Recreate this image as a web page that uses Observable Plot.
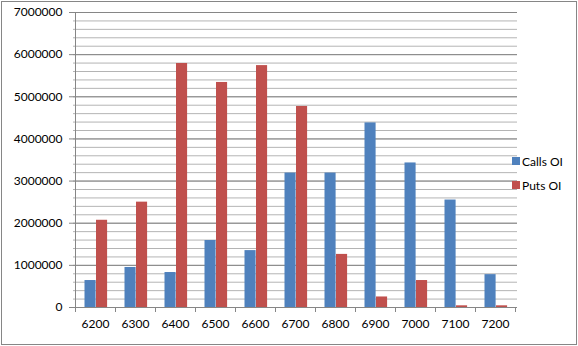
<!DOCTYPE html>
<html>
<head>
<meta charset="utf-8">
<script src="https://cdn.jsdelivr.net/npm/d3@7"></script>
<script src="https://cdn.jsdelivr.net/npm/@observablehq/plot@0.6"></script>
<style>
  html, body { margin: 0; padding: 0; background: #fff; }
  #wrap { position: relative; width: 578px; height: 346px; font-family: Lato, "Noto Sans", sans-serif; }
  #border { position: absolute; left: 1px; top: 1px; width: 576px; height: 344px; box-sizing: border-box; border: 1px solid #868686; pointer-events: none; }
  #legend { position: absolute; left: 512px; top: 153px; font-size: 12px; color: #000; }
  .item { display: flex; align-items: center; height: 16px; margin-bottom: 8px; }
  .sw { width: 8px; height: 8px; margin-right: 2px; }
</style>
</head>
<body>
<div id="wrap">
  <div id="chart"></div>
  <div id="legend"></div>
  <div id="border"></div>
</div>
<script>
const strikes = ["6200", "6300", "6400", "6500", "6600", "6700", "6800", "6900", "7000", "7100", "7200"];
const callsOI = [640000, 950000, 830000, 1590000, 1350000, 3190000, 3190000, 4380000, 3430000, 2550000, 780000];
const putsOI  = [2070000, 2500000, 5790000, 5340000, 5740000, 4770000, 1260000, 250000, 640000, 40000, 40000];
const seriesNames = ["Calls OI", "Puts OI"];
const seriesColors = ["#4F81BD", "#C0504D"];
const yTicks = [0, 1000000, 2000000, 3000000, 4000000, 5000000, 6000000, 7000000];
const minorTicks = d3.range(0, 7000001, 200000);

const calls = strikes.map((s, i) => ({strike: s, value: callsOI[i]}));
const puts = strikes.map((s, i) => ({strike: s, value: putsOI[i]}));

const chart = Plot.plot({
  width: 578,
  height: 346,
  marginLeft: 73,
  marginRight: 61,
  marginTop: 12,
  marginBottom: 39,
  x: {type: "band", domain: strikes, paddingInner: 0, paddingOuter: 0, label: null},
  y: {domain: [0, 7000000], label: null},
  style: {fontFamily: "Lato, 'Noto Sans', sans-serif", fontSize: "12px", color: "#000", background: "transparent", overflow: "visible"},
  marks: [
    Plot.ruleY(minorTicks, {stroke: "#b4b4b4", strokeWidth: 1}),
    Plot.ruleY(yTicks, {stroke: "#868686", strokeWidth: 1}),
    Plot.barY(calls, {x: "strike", y: "value", fill: seriesColors[0], insetLeft: 9.5, insetRight: 19.4}),
    Plot.barY(puts, {x: "strike", y: "value", fill: seriesColors[1], insetLeft: 21, insetRight: 7.9}),
    Plot.axisY({ticks: yTicks, tickSize: 4, tickPadding: 7, stroke: "#868686", tickFormat: d => String(d), fill: "#000"}),
    Plot.axisX({tickSize: 0, tickPadding: 12, fill: "#000"})
  ]
});
document.getElementById("chart").appendChild(chart);

// category boundary ticks and the vertical axis line, from the plot's own scales
const xs = chart.scale("x");
const ys = chart.scale("y");
const svg = d3.select(chart);
const bw = xs.bandwidth;
const bounds = strikes.map(s => xs.apply(s)).concat([xs.apply(strikes[strikes.length - 1]) + bw]);
const y0 = ys.apply(0), yTop = ys.apply(7000000);
const g = svg.append("g").attr("stroke", "#868686").attr("shape-rendering", "crispEdges");
g.append("line").attr("x1", bounds[0]).attr("x2", bounds[0]).attr("y1", yTop).attr("y2", y0);
g.selectAll("line.bt").data(bounds).join("line").attr("class", "bt")
  .attr("x1", d => d).attr("x2", d => d).attr("y1", y0).attr("y2", y0 + 5);

// legend
const legend = d3.select("#legend");
seriesNames.forEach((n, i) => {
  const it = legend.append("div").attr("class", "item");
  it.append("div").attr("class", "sw").style("background", seriesColors[i]);
  it.append("span").text(n);
});
</script>
</body>
</html>
